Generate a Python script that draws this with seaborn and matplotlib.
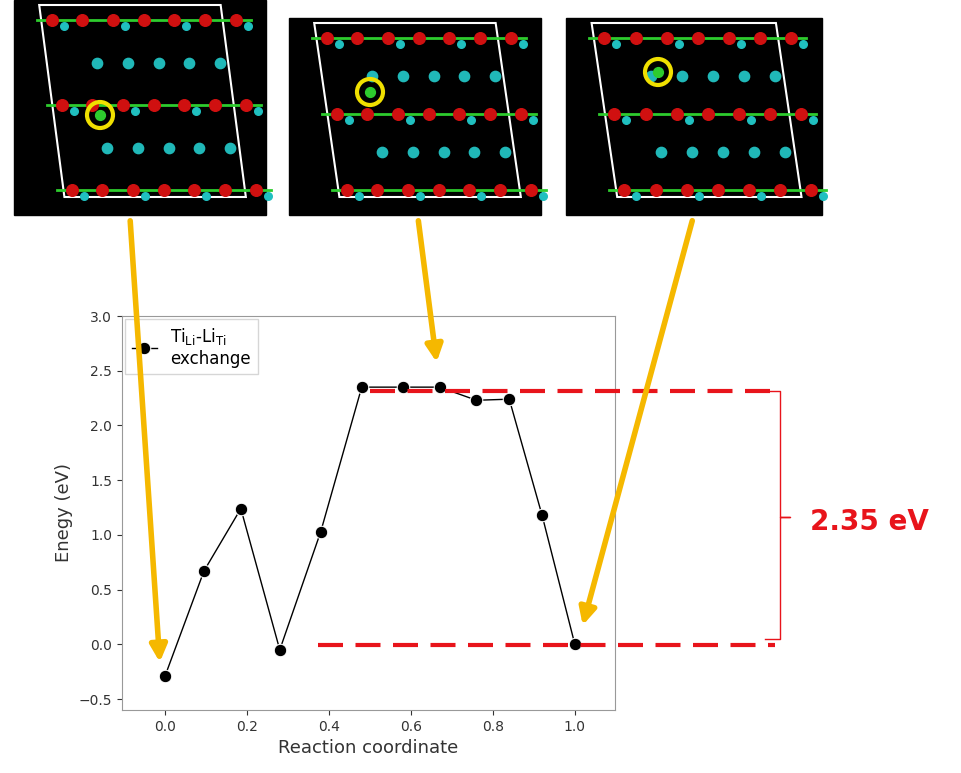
import numpy as np
import pandas as pd
import seaborn as sns
import matplotlib.pyplot as plt
from matplotlib.patches import Polygon, Circle

coord = [0.0, 0.095, 0.185, 0.28, 0.38, 0.48, 0.58, 0.67, 0.76, 0.84, 0.92, 1.0]
energy = [-0.29, 0.67, 1.24, -0.05, 1.03, 2.35, 2.35, 2.35, 2.23, 2.24, 1.18, 0.0]
barrier = 2.35

W, H = 961, 773
fig = plt.figure(figsize=(9.61, 7.73), dpi=100)

def fx(px): return px / W
def fy(py): return 1 - py / H

ax = fig.add_axes([fx(122), fy(710), (615 - 122) / W, (710 - 316) / H])
df = pd.DataFrame({"x": coord, "y": energy})
sns.lineplot(data=df, x="x", y="y", ax=ax, color="black", marker="o", markersize=9,
             lw=1, label="Ti$_{\\mathrm{Li}}$-Li$_{\\mathrm{Ti}}$\nexchange")
ax.set_xlim(-0.105, 1.098)
ax.set_ylim(-0.6, 3.0)
ax.set_xticks(np.arange(0, 1.01, 0.2))
ax.set_yticks(np.arange(-0.5, 3.01, 0.5))
ax.set_xlabel("Reaction coordinate", fontsize=13, color="#333")
ax.set_ylabel("Enegy (eV)", fontsize=13, color="#333")
ax.tick_params(labelsize=10, colors="#333")
for s in ax.spines.values():
    s.set_color("#999")
leg = ax.legend(loc="upper left", fontsize=12, frameon=True, fancybox=False, handlelength=1.5,
                borderaxespad=0.2)
leg.get_frame().set_edgecolor("#ccc")

# overlay axes in figure pixel coordinates
ov = fig.add_axes([0, 0, 1, 1], zorder=5)
ov.set_xlim(0, W); ov.set_ylim(H, 0); ov.axis("off")
red = "#e8141b"
ov.plot([370, 775], [391, 391], color=red, lw=3, ls=(0, (6, 3)))
ov.plot([318, 775], [645, 645], color=red, lw=3, ls=(0, (6, 3)))
ov.plot([765, 780, 780, 790, 780, 780, 765], [391, 391, 517, 517, 517, 639, 639], color=red, lw=1)
ov.text(810, 522, f"{barrier} eV", color=red, fontsize=20, fontweight="bold", va="center")

# crystal panels (schematic)
panels = [(14, 0, 266, 215, (100, 115)), (289, 18, 541, 215, (370, 92)), (566, 18, 822, 215, (658, 72))]
for (x0, y0, x1, y1, yc) in panels:
    ov.add_patch(plt.Rectangle((x0, y0), x1 - x0, y1 - y0, color="black", zorder=1))
    w = x1 - x0
    px0, px1 = x0 + 0.1 * w, x0 + 0.82 * w
    ov.add_patch(Polygon([[px0, y0 + 5], [px1, y0 + 5], [x1 - 0.08 * w, y1 - 18], [x0 + 0.2 * w, y1 - 18]],
                         fill=False, ec="white", lw=1.5, zorder=2))
    for row, yy in enumerate(np.linspace(y0 + 20, y1 - 25, 5)):
        xs = np.linspace(x0 + 0.15 * w, x1 - 0.12 * w, 7) + row * 5
        if row % 2 == 0:
            ov.plot([xs[0] - 15, xs[-1] + 15], [yy, yy], color="#2ecc2e", lw=2, zorder=3)
            ov.scatter(xs, np.full(7, yy), s=70, color="#d01010", zorder=4)
            ov.scatter(xs[::2] + 12, np.full(4, yy + 6), s=30, color="#20c0c0", zorder=4)
        else:
            ov.scatter(xs[1:-1:1][::1][::1][:5] + 10, np.full(5, yy), s=55, color="#20b8b8", zorder=4)
    ov.add_patch(Circle(yc, 13, fill=False, ec="#f0e000", lw=3, zorder=6))
    ov.scatter([yc[0]], [yc[1]], s=50, color="#2ecc2e", zorder=6)

gold = "#f5b800"
for (xs, ys, xe, ye) in [(130, 218, 160, 665), (418, 218, 437, 365), (693, 218, 582, 628)]:
    ov.annotate("", xy=(xe, ye), xytext=(xs, ys),
                arrowprops=dict(arrowstyle="-|>,head_width=0.5,head_length=1", color=gold, lw=4))

fig.savefig("out.png", dpi=100)
